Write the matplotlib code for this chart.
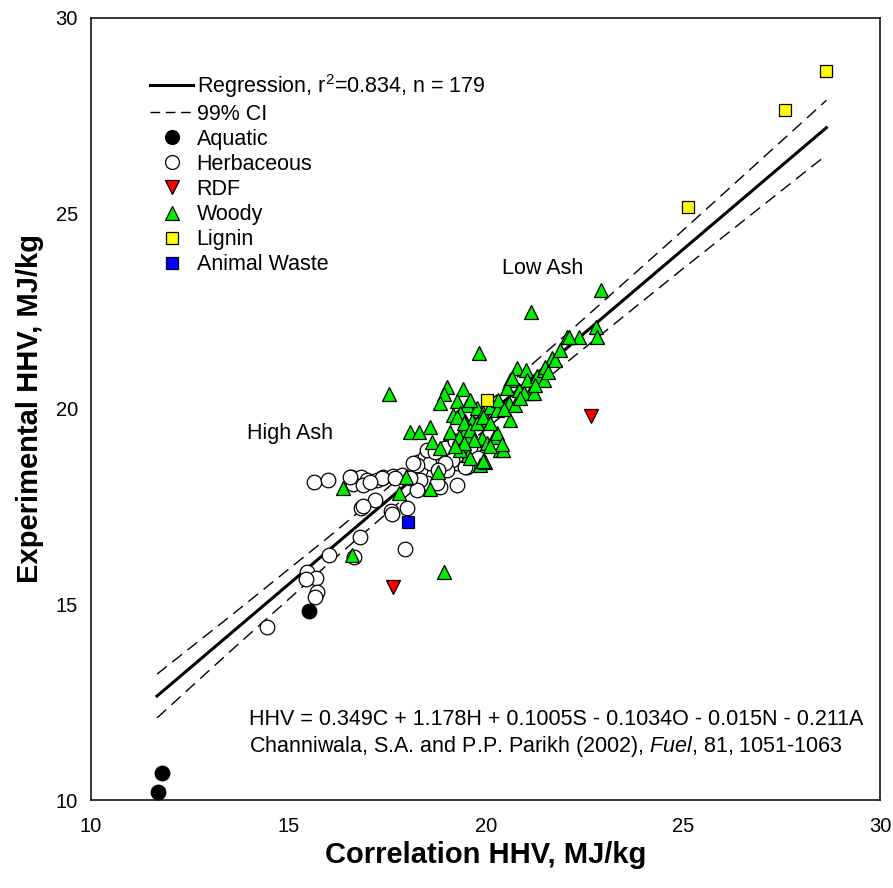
import matplotlib.pyplot as plt
from matplotlib.lines import Line2D

plt.rcParams['font.family'] = ['Liberation Sans', 'DejaVu Sans']
plt.rcParams['mathtext.fontset'] = 'custom'
plt.rcParams['mathtext.rm'] = 'Liberation Sans'
plt.rcParams['mathtext.it'] = 'Liberation Sans:italic'

# regression line and 99% confidence band
reg_x = [11.67, 28.63]
reg_y = [12.66, 27.19]
ci_x = [11.67, 13.5, 16.0, 19.0, 22.0, 25.0, 28.63]
ci_upper = [13.22, 14.68, 16.71, 19.23, 21.87, 24.57, 27.89]
ci_lower = [12.10, 13.78, 16.03, 18.65, 21.15, 23.59, 26.49]

# samples (correlation HHV, experimental HHV)
aquatic_x = [11.79, 11.69, 15.53]
aquatic_y = [10.70, 10.21, 14.84]

herb_x = [15.65, 16.01, 16.59, 16.84, 17.00, 17.25, 17.40, 17.66, 17.88,
          16.64, 16.89, 17.20, 16.84, 16.89, 17.60, 17.63, 18.01,
          16.82, 16.03, 16.67, 15.48, 15.70, 15.45, 15.73, 15.68, 14.46, 17.96,
          18.29, 18.47, 18.34, 18.59, 18.92, 19.28, 19.53, 18.85, 19.28, 18.39,
          18.52, 19.02, 18.26, 18.52, 18.77, 17.38, 17.71, 18.72, 18.97, 19.15,
          19.48, 18.34, 18.26, 19.02, 18.16, 18.97, 16.57, 17.07,
          19.23, 19.61, 19.81, 18.80, 18.09]
herb_y = [18.13, 18.18, 18.26, 18.26, 18.18, 18.18, 18.26, 18.29, 18.31,
          18.08, 18.06, 17.67, 17.47, 17.52, 17.39, 17.31, 17.47,
          16.73, 16.27, 16.21, 15.83, 15.68, 15.65, 15.32, 15.19, 14.42, 16.42,
          18.64, 18.77, 18.44, 18.62, 18.70, 18.62, 18.52, 18.01, 18.06, 18.06,
          18.95, 19.03, 18.57, 18.11, 18.11, 18.24, 18.24, 18.90, 19.00, 18.70,
          18.52, 18.18, 17.93, 18.44, 18.62, 18.62, 18.26, 18.13,
          19.18, 19.03, 18.75, 18.44, 18.24]

rdf_x = [17.64, 22.67]
rdf_y = [15.46, 19.83]

woody_x = [16.38, 16.62, 17.79, 17.98, 18.59, 18.80, 18.93, 18.09, 18.30, 18.58,
           18.64, 18.85, 19.10, 19.44, 19.56, 19.69, 19.86, 17.54, 19.02, 19.42,
           18.95, 18.85, 19.27, 19.52, 19.48, 19.65, 19.86, 19.18, 19.35, 19.31,
           19.52, 19.90, 20.03, 20.20, 20.28, 19.35, 19.61, 19.78, 19.94, 20.11,
           20.28, 19.61, 19.99, 20.37, 21.15, 19.82, 20.79, 21.03, 20.62, 21.04,
           21.30, 21.47, 21.68, 20.54, 20.83, 21.13, 20.32, 20.58, 22.06, 21.47,
           20.96, 22.92, 22.78, 22.82, 22.35, 22.12, 21.49, 20.66, 21.21, 20.62,
           20.44, 20.42, 19.94, 19.27, 19.44, 19.61, 19.78, 19.94, 20.11, 19.69,
           20.11, 19.44, 19.23, 20.47, 20.75, 20.87, 21.25, 21.58, 21.76, 21.89]
woody_y = [17.97, 16.27, 17.86, 18.25, 17.95, 18.40, 15.84, 19.42, 19.42, 19.55,
           19.16, 18.99, 19.42, 19.38, 18.82, 19.63, 18.57, 20.37, 20.56, 20.50,
           20.38, 20.15, 20.21, 20.10, 19.68, 19.68, 19.72, 19.85, 19.89, 19.29,
           19.29, 19.25, 19.12, 19.29, 19.38, 18.95, 18.74, 20.02, 19.89, 20.06,
           19.97, 20.23, 18.65, 18.95, 22.49, 21.44, 21.04, 21.00, 20.74, 20.74,
           20.83, 21.00, 21.30, 20.53, 20.49, 20.40, 20.23, 20.15, 21.85, 20.74,
           20.40, 23.03, 22.09, 21.83, 21.83, 21.83, 21.07, 20.79, 20.40, 19.72,
           18.95, 19.10, 18.68, 19.80, 19.63, 19.46, 19.63, 19.80, 19.64, 19.21,
           19.04, 19.13, 19.05, 20.00, 20.10, 20.28, 20.61, 20.95, 21.25, 21.51]

lignin_x = [20.03, 28.61, 27.59, 25.13]
lignin_y = [20.23, 28.65, 27.63, 25.15]

animal_x = [18.04]
animal_y = [17.12]

fig = plt.figure(figsize=(8.93, 8.88), dpi=100)
ax = fig.add_axes([0.102, 0.099, 0.884, 0.881])

ax.plot(reg_x, reg_y, color='black', lw=2.2, zorder=2)
ax.plot(ci_x, ci_upper, color='black', lw=1.0, dashes=(9, 5), zorder=2)
ax.plot(ci_x, ci_lower, color='black', lw=1.0, dashes=(9, 5), zorder=2)

mk = dict(linestyle='none', markeredgecolor='black', markeredgewidth=0.9)
ax.plot(herb_x, herb_y, marker='o', ms=10.5, markerfacecolor='white', zorder=3, **mk)
ax.plot(woody_x, woody_y, marker='^', ms=10, markerfacecolor='#00ee00', zorder=4, **mk)
ax.plot(aquatic_x, aquatic_y, marker='o', ms=10.5, markerfacecolor='black', zorder=5, **mk)
ax.plot(rdf_x, rdf_y, marker='v', ms=10, markerfacecolor='#ff0000', zorder=5, **mk)
ax.plot(lignin_x, lignin_y, marker='s', ms=8.8, markerfacecolor='#ffff00', zorder=5, **mk)
ax.plot(animal_x, animal_y, marker='s', ms=8.8, markerfacecolor='#0000ff', zorder=5, **mk)

ax.set_xlim(10, 30)
ax.set_ylim(10, 30)
ax.set_xticks([10, 15, 20, 25, 30])
ax.set_yticks([10, 15, 20, 25, 30])
ax.tick_params(length=0, labelsize=14.5)
ax.tick_params(axis='x', pad=12.5)
ax.tick_params(axis='y', pad=9.5)
for s in ax.spines.values():
    s.set_linewidth(1.1)

ax.set_xlabel('Correlation HHV, MJ/kg', fontsize=21, fontweight='bold', labelpad=3)
ax.set_ylabel('Experimental HHV, MJ/kg', fontsize=21, fontweight='bold', labelpad=8)

ax.text(13.95, 19.36, 'High Ash', fontsize=15.5, va='center')
ax.text(20.41, 23.6, 'Low Ash', fontsize=15.5, va='center')
ax.text(14.0, 12.07, 'HHV = 0.349C + 1.178H + 0.1005S - 0.1034O - 0.015N - 0.211A',
        fontsize=15.5, va='center')
ax.text(14.0, 11.36, r'Channiwala, S.A. and P.P. Parikh (2002), $\it{Fuel}$, 81, 1051-1063',
        fontsize=15.5, va='center')

handles = [
    Line2D([], [], color='black', lw=2.2),
    Line2D([], [], color='black', lw=1.0, dashes=(7, 4)),
    Line2D([], [], marker='o', ms=10, markerfacecolor='black', **mk),
    Line2D([], [], marker='o', ms=10, markerfacecolor='white', **mk),
    Line2D([], [], marker='v', ms=10, markerfacecolor='#ff0000', **mk),
    Line2D([], [], marker='^', ms=10, markerfacecolor='#00ee00', **mk),
    Line2D([], [], marker='s', ms=8.8, markerfacecolor='#ffff00', **mk),
    Line2D([], [], marker='s', ms=8.8, markerfacecolor='#0000ff', **mk),
]
labels = [r'Regression, r$^2$=0.834, n = 179', '99% CI', 'Aquatic', 'Herbaceous',
          'RDF', 'Woody', 'Lignin', 'Animal Waste']
ax.legend(handles, labels, loc='upper left', bbox_to_anchor=(0.075, 0.931),
          frameon=False, fontsize=15.5, handlelength=2.0, handletextpad=0.15,
          labelspacing=0.19, borderpad=0, borderaxespad=0)

fig.savefig('out.png', dpi=100)
